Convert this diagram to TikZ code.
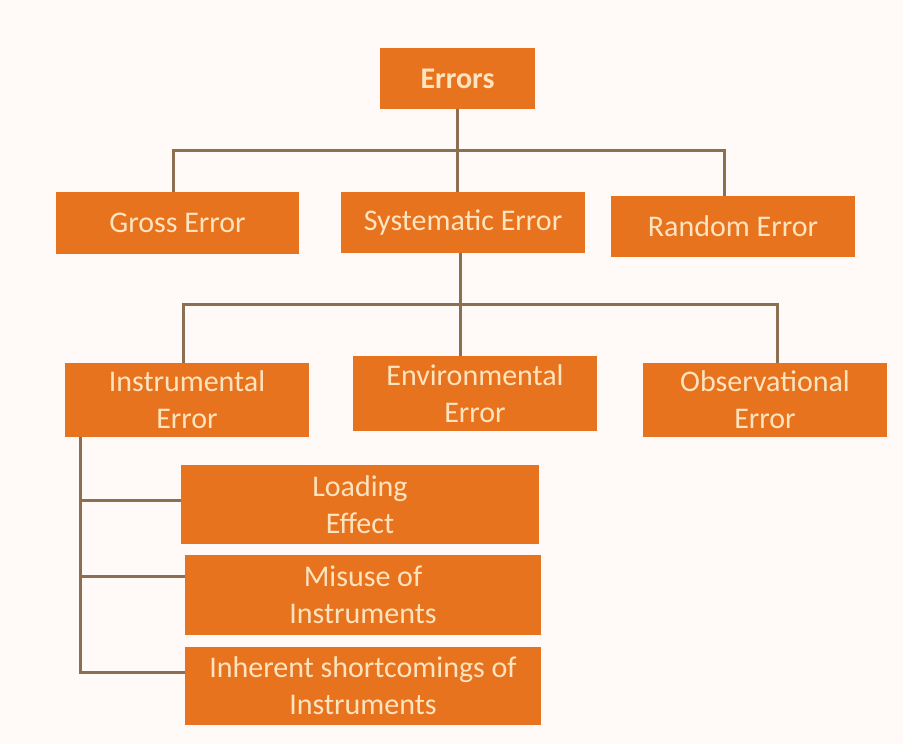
\documentclass[tikz,border=0pt]{standalone}
\usepackage{fontspec}
\setmainfont{Carlito}
\definecolor{boxfill}{HTML}{E8731F}
\definecolor{boxtext}{HTML}{FDE3BE}
\definecolor{linkc}{HTML}{8C6E50}
\definecolor{bgc}{HTML}{FFFAF8}
\tikzset{
  box/.style={rectangle, fill=boxfill, text=boxtext, align=center, inner sep=0pt,
    font=\fontsize{30}{37}\selectfont},
  link/.style={draw=linkc, line width=3pt}
}
\begin{document}
\begin{tikzpicture}[x=1pt,y=1pt]
\useasboundingbox (0,0) rectangle (903,-744);
\fill[bgc] (0,0) rectangle (903,-744);
% level 0
\node[box, minimum width=155pt, minimum height=61pt, font=\fontsize{30}{37}\selectfont\bfseries] (err) at (457.5,-78.5) {Errors};
% level 1
\node[box, minimum width=243pt, minimum height=62pt] (gross) at (177.5,-223) {Gross Error};
\node[box, minimum width=244pt, minimum height=61pt] (sys) at (463,-222.5) {Systematic Error};
\node[box, minimum width=244pt, minimum height=61pt] (rand) at (733,-226.5) {Random Error};
% level 2
\node[box, minimum width=244pt, minimum height=74pt] (instr) at (187,-400) {Instrumental\\Error};
\node[box, minimum width=244pt, minimum height=75pt] (env) at (475,-393.5) {Environmental\\Error};
\node[box, minimum width=244pt, minimum height=74pt] (obs) at (765,-400) {Observational\\Error};
% level 3
\node[box, minimum width=358pt, minimum height=79pt] (load) at (360,-504.5) {Loading\\Effect};
\node[box, minimum width=356pt, minimum height=80pt] (mis) at (363,-595) {Misuse of\\Instruments};
\node[box, minimum width=356pt, minimum height=78pt] (inh) at (363,-686) {Inherent shortcomings of\\Instruments};
% junctions
\coordinate (j1) at (457,-150);
\coordinate (j2) at (460,-304);
% connectors level 0 -> 1
\draw[link] (err.south) -- (err.south |- sys.north);
\draw[link] ([xshift=-4.5pt]gross.north) |- (j1) -| ([xshift=-9pt]rand.north);
% connectors level 1 -> 2
\draw[link] ([xshift=-3pt]sys.south) -- ([xshift=-3pt]sys.south |- env.north);
\draw[link] ([xshift=-4pt]instr.north) |- (j2) -| ([xshift=12pt]obs.north);
% connectors level 2 -> 3
\draw[link] ([xshift=16pt]instr.south west) |- ([yshift=14pt]inh.west);
\draw[link] ([xshift=16pt]instr.south west |- load.west) ++(0,4.5pt) -- ([yshift=4.5pt]load.west);
\draw[link] ([xshift=16pt]instr.south west |- mis.west) ++(0,19pt) -- ([yshift=19pt]mis.west);
\end{tikzpicture}
\end{document}
